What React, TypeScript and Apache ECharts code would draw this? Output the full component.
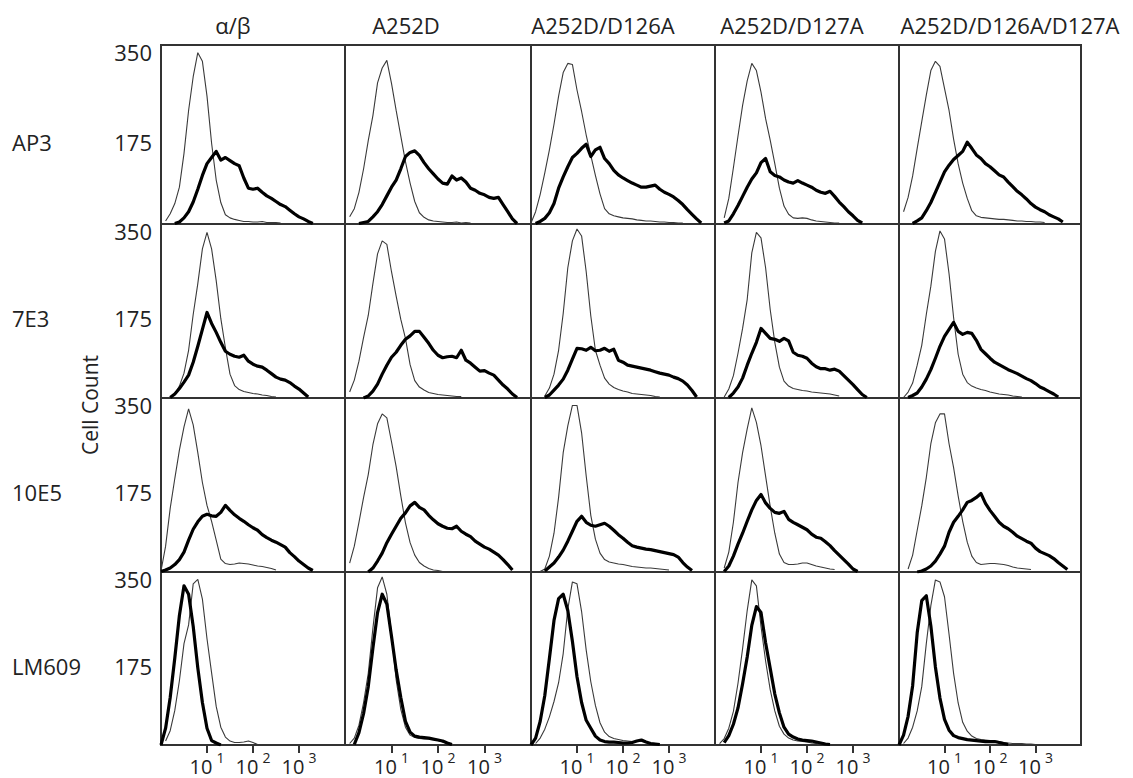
import React, { useEffect, useRef } from 'react';
import * as echarts from 'echarts';

const COLUMNS = ['α/β', 'A252D', 'A252D/D126A', 'A252D/D127A', 'A252D/D126A/D127A'];
const ROWS = ['AP3', '7E3', '10E5', 'LM609'];
const Y_MAX = 350;
const Y_STEP = 175;
const X_TICKS = [1, 2, 3];
const X_TICK_BASE = '10';
const X_TICK_EXP = ['1', '2', '3'];
const Y_NAME = 'Cell Count';

// fluorescence bins, in decades (10^0 … 10^4)
const LOG_BINS = [0.0, 0.1, 0.2, 0.3, 0.4, 0.5, 0.6, 0.7, 0.8, 0.9, 1.0, 1.1, 1.2, 1.3, 1.4, 1.5, 1.6, 1.7, 1.8, 1.9, 2.0,
  2.1, 2.2, 2.3, 2.4, 2.5, 2.6, 2.7, 2.8, 2.9, 3.0, 3.1, 3.2, 3.3, 3.4, 3.5, 3.6, 3.7, 3.8, 3.9, 4.0];
const N = null;

// thin line = control, thick line = antibody
const AP3_AB_CTRL = [N, 6, 20, 40, 72, 138, 222, 288, 335, 318, 250, 158, 86, 42, 18, 12, 9, 7, 5, 5, 4, 4, 5, 3, 3, 3, 2];
const AP3_AB_MAB = [N, N, N, 1, 4, 12, 24, 43, 68, 95, 118, 130, 142, 125, 130, 124, 118, 114, 90, 70, 68, 70, 62, 55, 50, 44, 38, 34, 27, 20, 14, 10, 5, 1];
const AP3_A252D_CTRL = [N, 14, 30, 62, 108, 163, 212, 276, 305, 320, 275, 222, 172, 122, 80, 44, 22, 13, 8, 6, 5, 4, 3, 3, 4, 2, 3, 2];
const AP3_A252D_MAB = [N, N, N, 1, 3, 5, 14, 24, 38, 55, 72, 86, 108, 132, 140, 143, 134, 120, 108, 98, 88, 80, 78, 94, 86, 90, 82, 70, 66, 60, 57, 52, 50, 52, 38, 24, 10, 1];
const AP3_D126A_CTRL = [2, 24, 58, 100, 145, 195, 250, 296, 314, 312, 262, 220, 174, 134, 95, 59, 30, 20, 16, 14, 12, 11, 10, 8, 7, 6, 6, 5, 4, 4, 3, 3, 2, 2];
const AP3_D126A_MAB = [N, 1, 5, 11, 22, 40, 70, 92, 112, 130, 138, 148, 156, 132, 145, 150, 128, 118, 105, 96, 90, 85, 80, 76, 72, 72, 74, 76, 68, 62, 58, 53, 46, 38, 28, 19, 10, 2];
const AP3_D127A_CTRL = [N, N, 12, 50, 110, 172, 232, 280, 314, 300, 258, 206, 164, 118, 70, 35, 19, 12, 11, 12, 11, 8, 6, 5, 4, 3, 2, 2];
const AP3_D127A_MAB = [N, N, 2, 6, 20, 36, 54, 72, 88, 100, 120, 128, 102, 95, 92, 86, 82, 80, 85, 80, 76, 72, 66, 62, 60, 64, 54, 43, 34, 24, 16, 7, 2];
const AP3_TRIPLE_CTRL = [N, 24, 52, 94, 148, 200, 252, 300, 318, 308, 265, 222, 166, 118, 80, 50, 26, 16, 13, 12, 11, 10, 9, 9, 8, 7, 6, 6, 5, 5, 4, 4, 3];
const AP3_TRIPLE_MAB = [N, N, N, 1, 6, 12, 26, 42, 62, 82, 102, 115, 126, 134, 142, 160, 148, 135, 128, 118, 112, 104, 96, 92, 82, 73, 64, 57, 49, 40, 33, 28, 24, 18, 14, 10, 4];

const E7E3_AB_CTRL = [N, N, 1, 8, 24, 50, 96, 168, 230, 300, 333, 300, 236, 160, 101, 48, 25, 17, 13, 11, 9, 8, 6, 5, 3, 2];
const E7E3_AB_MAB = [N, N, 1, 8, 19, 32, 46, 72, 104, 138, 172, 150, 132, 112, 94, 88, 84, 82, 86, 74, 68, 64, 62, 56, 49, 42, 38, 36, 31, 24, 18, 10, 2];
const E7E3_A252D_CTRL = [N, 12, 36, 74, 122, 166, 230, 290, 316, 309, 254, 205, 158, 120, 67, 35, 22, 16, 11, 9, 7, 6, 5, 4, 3, 3];
const E7E3_A252D_MAB = [N, N, N, N, 0, 4, 14, 28, 48, 66, 82, 92, 106, 118, 125, 134, 134, 122, 110, 96, 86, 81, 83, 84, 81, 96, 76, 70, 62, 54, 55, 50, 46, 36, 26, 18, 8, 1];
const E7E3_D126A_CTRL = [N, N, N, 4, 20, 48, 96, 170, 262, 316, 340, 326, 254, 165, 96, 66, 40, 28, 21, 17, 14, 12, 9, 8, 7, 6, 5, 3, 2];
const E7E3_D126A_MAB = [N, N, N, 1, 6, 16, 26, 38, 56, 78, 100, 99, 96, 102, 95, 96, 100, 94, 98, 76, 72, 66, 64, 62, 60, 58, 56, 53, 50, 48, 46, 42, 39, 34, 26, 15, 2];
const E7E3_D127A_CTRL = [N, N, 2, 18, 45, 90, 140, 198, 292, 333, 322, 262, 178, 112, 62, 34, 24, 19, 17, 15, 14, 12, 11, 10, 9, 8, 6, 4];
const E7E3_D127A_MAB = [N, N, N, 1, 10, 22, 40, 66, 90, 112, 140, 130, 120, 118, 114, 120, 115, 92, 86, 84, 80, 70, 63, 59, 59, 56, 58, 54, 45, 36, 27, 17, 7, 1];
const E7E3_TRIPLE_CTRL = [N, 1, 12, 30, 66, 106, 168, 225, 295, 336, 320, 250, 162, 88, 48, 31, 24, 20, 17, 15, 12, 10, 8, 7, 6, 4, 3, 2];
const E7E3_TRIPLE_MAB = [N, N, 1, 5, 10, 22, 38, 57, 80, 104, 124, 138, 152, 134, 128, 132, 130, 116, 98, 89, 80, 72, 67, 62, 57, 53, 49, 44, 39, 35, 29, 22, 18, 13, 8, 2];

const E10E5_AB_CTRL = [2, 52, 128, 188, 245, 292, 328, 296, 240, 180, 134, 102, 64, 26, 17, 15, 16, 18, 17, 16, 14, 12, 11, 9, 7, 4];
const E10E5_AB_MAB = [1, 4, 8, 15, 25, 40, 64, 86, 101, 112, 116, 113, 112, 120, 134, 124, 115, 108, 102, 95, 89, 84, 75, 69, 64, 60, 55, 50, 39, 31, 22, 15, 8, 3];
const E10E5_A252D_CTRL = [N, 18, 52, 100, 150, 196, 256, 298, 318, 310, 262, 212, 153, 99, 59, 34, 19, 12, 7, 4, 3, 1];
const E10E5_A252D_MAB = [N, N, N, N, N, 0, 8, 22, 38, 59, 76, 92, 108, 119, 133, 140, 130, 125, 114, 105, 97, 92, 88, 87, 92, 82, 76, 71, 62, 56, 50, 46, 40, 34, 25, 15, 4];
const E10E5_D126A_CTRL = [N, N, 1, 6, 32, 78, 150, 240, 294, 335, 335, 280, 193, 114, 66, 38, 25, 20, 18, 16, 15, 13, 11, 10, 9, 8, 8, 7, 6, 5, 4];
const E10E5_D126A_MAB = [N, N, N, 2, 10, 18, 30, 44, 62, 82, 102, 112, 100, 94, 92, 95, 98, 92, 84, 75, 68, 60, 53, 50, 48, 46, 45, 43, 41, 39, 37, 35, 30, 19, 10, 3];
const E10E5_D127A_CTRL = [N, N, 8, 40, 100, 180, 240, 288, 330, 301, 254, 193, 132, 78, 36, 19, 15, 15, 16, 18, 18, 15, 12, 10, 8, 6, 5];
const E10E5_D127A_MAB = [N, N, 1, 12, 32, 56, 78, 102, 125, 144, 156, 139, 128, 120, 118, 122, 106, 100, 95, 90, 85, 76, 70, 68, 61, 53, 43, 34, 25, 16, 6, 1];
const E10E5_TRIPLE_CTRL = [N, N, 6, 34, 84, 133, 190, 258, 300, 318, 318, 258, 210, 153, 102, 60, 32, 19, 15, 16, 17, 17, 16, 15, 13, 10, 8, 7, 6, 5];
const E10E5_TRIPLE_MAB = [N, N, N, N, 0, 2, 6, 12, 22, 36, 52, 80, 100, 112, 125, 140, 144, 150, 158, 138, 124, 112, 100, 92, 87, 80, 72, 67, 62, 58, 48, 41, 37, 33, 27, 19, 12, 5];

const LM609_AB_CTRL = [N, 8, 29, 70, 130, 205, 243, 326, 335, 295, 215, 146, 78, 36, 16, 8, 5, 5, 6, 8, 5, 1];
const LM609_AB_MAB = [0, 34, 96, 176, 262, 322, 305, 240, 156, 86, 34, 9, 4, 0];
const LM609_A252D_CTRL = [N, 3, 14, 40, 86, 145, 236, 318, 340, 305, 225, 132, 72, 36, 20, 15, 13, 12, 12, 12, 9, 6, 3];
const LM609_A252D_MAB = [N, N, 1, 25, 64, 118, 196, 268, 305, 285, 220, 152, 96, 48, 26, 18, 16, 15, 14, 12, 10, 8, 4, 1];
const LM609_D126A_CTRL = [N, 3, 14, 32, 57, 88, 126, 185, 275, 330, 326, 270, 192, 128, 80, 45, 26, 17, 13, 11, 9, 8, 7, 7, 7, 6, 4, 3, 1];
const LM609_D126A_MAB = [0, 14, 48, 100, 175, 252, 296, 305, 272, 210, 138, 86, 50, 34, 18, 10, 7, 6, 6, 5, 4, 4, 5, 8, 10, 6, 3, 2, 1];
const LM609_D127A_CTRL = [N, 3, 13, 34, 68, 125, 195, 272, 334, 322, 240, 170, 112, 69, 38, 22, 14, 10, 8, 7, 6, 4, 3, 1];
const LM609_D127A_MAB = [N, N, 5, 19, 42, 75, 124, 178, 242, 280, 268, 207, 155, 103, 65, 36, 22, 16, 12, 10, 9, 8, 6, 4, 2, 1];
const LM609_TRIPLE_CTRL = [N, 3, 14, 36, 69, 118, 205, 282, 334, 330, 300, 224, 145, 85, 46, 28, 18, 13, 11, 10, 9, 8, 7, 5, 4, 3, 3, 3, 2, 2, 1];
const LM609_TRIPLE_MAB = [0, 20, 58, 120, 227, 292, 302, 241, 158, 95, 52, 30, 19, 15, 13, 11, 10, 9, 8, 7, 7, 7, 5, 3, 1];

const CONTROL = [
  [AP3_AB_CTRL, AP3_A252D_CTRL, AP3_D126A_CTRL, AP3_D127A_CTRL, AP3_TRIPLE_CTRL],
  [E7E3_AB_CTRL, E7E3_A252D_CTRL, E7E3_D126A_CTRL, E7E3_D127A_CTRL, E7E3_TRIPLE_CTRL],
  [E10E5_AB_CTRL, E10E5_A252D_CTRL, E10E5_D126A_CTRL, E10E5_D127A_CTRL, E10E5_TRIPLE_CTRL],
  [LM609_AB_CTRL, LM609_A252D_CTRL, LM609_D126A_CTRL, LM609_D127A_CTRL, LM609_TRIPLE_CTRL],
];
const ANTIBODY = [
  [AP3_AB_MAB, AP3_A252D_MAB, AP3_D126A_MAB, AP3_D127A_MAB, AP3_TRIPLE_MAB],
  [E7E3_AB_MAB, E7E3_A252D_MAB, E7E3_D126A_MAB, E7E3_D127A_MAB, E7E3_TRIPLE_MAB],
  [E10E5_AB_MAB, E10E5_A252D_MAB, E10E5_D126A_MAB, E10E5_D127A_MAB, E10E5_TRIPLE_MAB],
  [LM609_AB_MAB, LM609_A252D_MAB, LM609_D126A_MAB, LM609_D127A_MAB, LM609_TRIPLE_MAB],
];

// layout
const GRID_LEFT = [161, 345, 531, 715, 899];
const GRID_WIDTH = [184, 186, 184, 184, 182];
const GRID_TOP = [45, 224, 398, 572];
const GRID_HEIGHT = [179, 174, 174, 173];
const TITLE_X = [233, 406, 603, 792, 1010];
const FONT = "'Open Sans', 'Noto Sans', sans-serif";
const TEXT = '#222';

function toSeriesData(curve: (number | null)[]) {
  return curve.map((v, i) => [LOG_BINS[i], v == null ? '-' : v]);
}

function buildOption() {
  const grid: any[] = [];
  const xAxis: any[] = [];
  const yAxis: any[] = [];
  const series: any[] = [];
  const graphic: any[] = [];

  ROWS.forEach((rowName, r) => {
    COLUMNS.forEach((colName, c) => {
      const idx = r * COLUMNS.length + c;
      const bottomRow = r === ROWS.length - 1;
      grid.push({
        left: GRID_LEFT[c], top: GRID_TOP[r], width: GRID_WIDTH[c], height: GRID_HEIGHT[r],
        show: true, borderColor: '#333', borderWidth: 2, backgroundColor: 'transparent',
      });
      xAxis.push({
        type: 'value', gridIndex: idx, min: 0, max: 4, interval: 1,
        axisLine: { show: false }, splitLine: { show: false },
        axisTick: { show: bottomRow, inside: false, length: 8, customValues: X_TICKS, lineStyle: { color: '#333', width: 2 } },
        axisLabel: {
          show: bottomRow, customValues: X_TICKS, margin: 5, color: TEXT, fontFamily: FONT,
          formatter: (v: number) => `{b|${X_TICK_BASE}}{s|${X_TICK_EXP[X_TICKS.indexOf(Math.round(v))] ?? ''}}`,
          rich: {
            b: { fontSize: 20, lineHeight: 26, verticalAlign: 'bottom', fontFamily: FONT, color: TEXT },
            s: { fontSize: 14, lineHeight: 8, verticalAlign: 'top', fontFamily: FONT, color: TEXT, padding: [0, 0, 0, 4] },
          },
        },
      });
      yAxis.push({
        type: 'value', gridIndex: idx, min: 0, max: Y_MAX, interval: Y_STEP,
        axisLine: { show: false }, axisTick: { show: false }, splitLine: { show: false },
        axisLabel: {
          show: c === 0, margin: 9, fontSize: 22, fontFamily: FONT, color: TEXT,
          verticalAlign: 'top', lineHeight: 14,
          formatter: (v: number) => (v === 0 ? '' : String(v)),
        },
      });
      series.push({
        type: 'line', xAxisIndex: idx, yAxisIndex: idx, data: toSeriesData(CONTROL[r][c]),
        showSymbol: false, symbol: 'none', silent: true, z: 2,
        lineStyle: { color: '#3a3a3a', width: 1.1 },
      });
      series.push({
        type: 'line', xAxisIndex: idx, yAxisIndex: idx, data: toSeriesData(ANTIBODY[r][c]),
        showSymbol: false, symbol: 'none', silent: true, z: 3,
        lineStyle: { color: '#000', width: 3.2, join: 'round' },
      });
    });
    graphic.push({
      type: 'text', x: 12, y: GRID_TOP[r] + GRID_HEIGHT[r] / 2 + 7,
      style: { text: rowName, fill: TEXT, font: `22px ${FONT}`, align: 'left', verticalAlign: 'middle', textAlign: 'left', textVerticalAlign: 'middle' },
    });
  });

  COLUMNS.forEach((colName, c) => {
    graphic.push({
      type: 'text', x: TITLE_X[c], y: 25,
      style: { text: colName, fill: TEXT, font: `22px ${FONT}`, align: 'center', verticalAlign: 'middle', textAlign: 'center', textVerticalAlign: 'middle' },
    });
  });

  graphic.push({
    type: 'text', x: 90, y: 405, rotation: Math.PI / 2,
    style: { text: Y_NAME, fill: TEXT, font: `21px ${FONT}`, align: 'center', verticalAlign: 'middle', textAlign: 'center', textVerticalAlign: 'middle' },
  });

  return { animation: false, backgroundColor: '#fff', grid, xAxis, yAxis, series, graphic };
}

export default function App() {
  const ref = useRef<HTMLDivElement>(null);
  useEffect(() => {
    if (!ref.current) return;
    const chart = echarts.init(ref.current, undefined, { renderer: 'svg' });
    chart.setOption(buildOption() as any);
    return () => chart.dispose();
  }, []);
  return (
    <div
      ref={ref}
      style={{ position: 'absolute', left: 0, top: 0, width: 1133, height: 778, background: '#fff' }}
    />
  );
}
